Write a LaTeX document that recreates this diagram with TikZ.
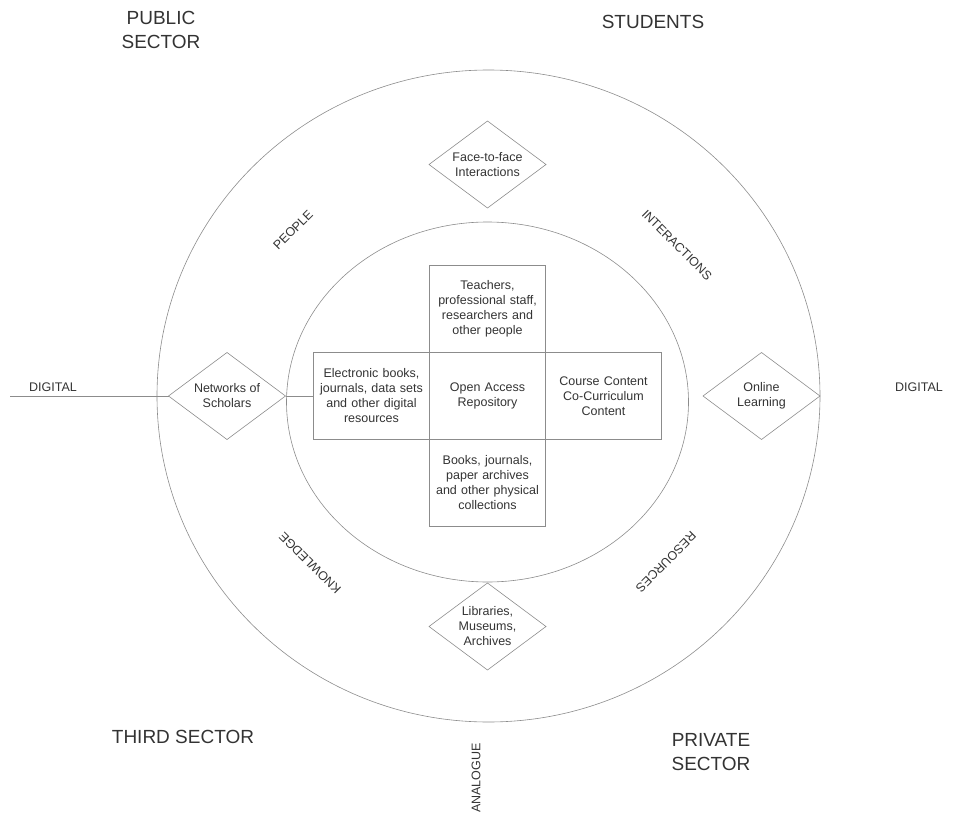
\documentclass[tikz,border=0pt]{standalone}
\usepackage{fontspec}
\setmainfont{Liberation Sans}
\usetikzlibrary{positioning,shapes.geometric}

\definecolor{linegray}{gray}{0.55}
\definecolor{textgray}{gray}{0.2}

\begin{document}
\begin{tikzpicture}[x=1pt,y=-1pt,node distance=0pt,
		line width=0.6pt,
		box node/.style={rectangle,draw=linegray,text=textgray,outer sep=0pt,inner sep=0pt,
			minimum width=116pt,minimum height=87pt,text width=110pt,align=center,
			font=\fontsize{12.5}{15}\selectfont},
		diamond node/.style={diamond,draw=linegray,text=textgray,outer sep=0pt,inner sep=1pt,
			aspect=1.34,minimum width=117pt,minimum height=87pt,align=center,
			font=\fontsize{12.5}{15}\selectfont},
		ring label/.style={text=textgray,inner sep=0pt,font=\fontsize{12.5}{15}\selectfont},
		sector label/.style={text=textgray,inner sep=0pt,align=center,font=\fontsize{19}{24}\selectfont}]
		\useasboundingbox (0,0) rectangle (956,816);

		% the repository and what sits round it
		\node[box node] (repo) at (487.5,396) {Open Access\\Repository};
		\node[box node] (people) [above=of repo] {Teachers,\\professional staff,\\researchers and\\other people};
		\node[box node] (physical) [below=of repo] {Books, journals,\\paper archives\\and other physical\\collections};
		\node[box node] (elec) [left=of repo] {Electronic books,\\journals, data sets\\and other digital\\resources};
		\node[box node] (course) [right=of repo] {Course Content\\Co-Curriculum\\Content};

		\node[diamond node] (nets) [left=28pt of elec] {Networks of\\Scholars};
		\node[diamond node] (online) [right=41.5pt of course] {Online\\Learning};
		\node[diamond node] (face) [above=57.5pt of people] {Face-to-face\\Interactions};
		\node[diamond node] (libs) [below=56.5pt of physical] {Libraries,\\Museums,\\Archives};

		% rings
		\draw[linegray] (488.5,396) ellipse [x radius=331.5pt, y radius=326pt];
		\draw[linegray] (487.5,402) ellipse [x radius=201pt, y radius=180pt];

		\coordinate (digital end) at (10,396);
		\path[draw=linegray]
		(digital end) -- (nets.west)
		(nets.east) -- (elec.west);

		\node[ring label] (digital left) at (53,387) {DIGITAL};
		\node[ring label] (digital right) at (919,387) {DIGITAL};
		\node[ring label,rotate=90] (analogue) at (476,778) {ANALOGUE};
		\node[ring label,rotate=45] (peoplelbl) at (293,230) {PEOPLE};
		\node[ring label,rotate=-45] (interlbl) at (677,245) {INTERACTIONS};
		\node[ring label,rotate=135] (knowlbl) at (310,563) {KNOWLEDGE};
		\node[ring label,rotate=-135] (reslbl) at (666,562) {RESOURCES};

		\node[sector label] (public) at (161,30) {PUBLIC\\SECTOR};
		\node[sector label] (students) at (653,22) {STUDENTS};
		\node[sector label] (third) at (183,737) {THIRD SECTOR};
		\node[sector label] (private) at (711,752) {PRIVATE\\SECTOR};
\end{tikzpicture}
\end{document}
